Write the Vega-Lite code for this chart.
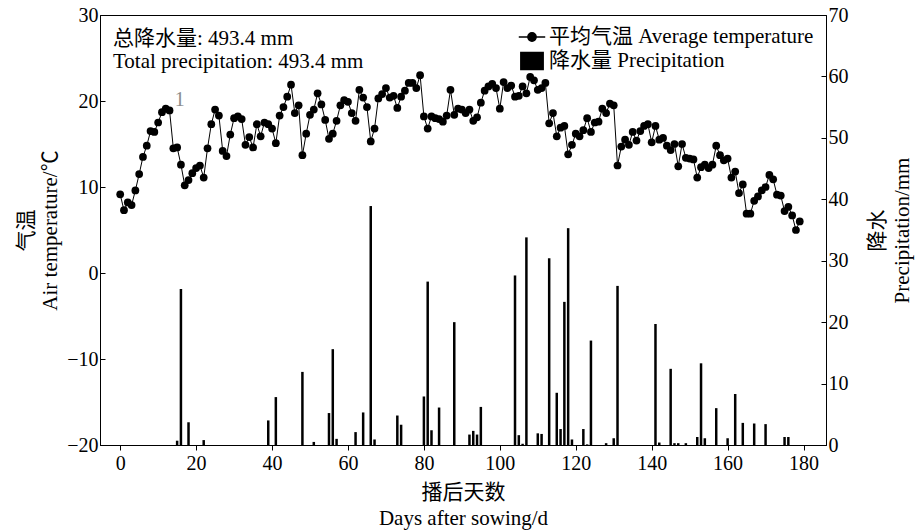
{
  "$schema": "https://vega.github.io/schema/vega-lite/v6.json",
  "width": 726,
  "height": 430,
  "autosize": "none",
  "padding": {"left": 100, "top": 15, "right": 89, "bottom": 87},
  "background": "white",
  "config": {
    "font": "Liberation Serif, Noto Sans CJK SC",
    "view": {"stroke": "black", "strokeWidth": 1},
    "axis": {
      "grid": false,
      "domainColor": "black",
      "tickColor": "black",
      "labelColor": "black",
      "titleColor": "black",
      "labelFontSize": 20,
      "titleFontSize": 21,
      "titleFontWeight": "normal",
      "labelFont": "Liberation Serif, Noto Sans CJK SC",
      "titleFont": "Liberation Serif, Noto Sans CJK SC"
    }
  },
  "datasets": {
    "temp": [
      {"day":0,"temp":9.15},{"day":1,"temp":7.3},{"day":2,"temp":8.2},{"day":3,"temp":7.9},{"day":4,"temp":9.6},
      {"day":5,"temp":11.5},{"day":6,"temp":13.5},{"day":7,"temp":14.8},{"day":8,"temp":16.5},{"day":9,"temp":16.4},
      {"day":10,"temp":17.5},{"day":11,"temp":18.7},{"day":12,"temp":19.1},{"day":13,"temp":18.9},{"day":14,"temp":14.5},
      {"day":15,"temp":14.6},{"day":16,"temp":12.6},{"day":17,"temp":10.2},{"day":18,"temp":10.8},{"day":19,"temp":11.6},
      {"day":20,"temp":12.2},{"day":21,"temp":12.5},{"day":22,"temp":11.1},{"day":23,"temp":14.5},{"day":24,"temp":17.3},
      {"day":25,"temp":19.0},{"day":26,"temp":18.3},{"day":27,"temp":14.2},{"day":28,"temp":13.6},{"day":29,"temp":16.1},
      {"day":30,"temp":18.0},{"day":31,"temp":18.2},{"day":32,"temp":17.9},{"day":33,"temp":14.9},{"day":34,"temp":15.8},
      {"day":35,"temp":14.6},{"day":36,"temp":17.3},{"day":37,"temp":15.9},{"day":38,"temp":17.5},{"day":39,"temp":17.3},
      {"day":40,"temp":16.8},{"day":41,"temp":15.1},{"day":42,"temp":18.3},{"day":43,"temp":19.3},{"day":44,"temp":20.5},
      {"day":45,"temp":21.9},{"day":46,"temp":18.6},{"day":47,"temp":19.5},{"day":48,"temp":13.7},{"day":49,"temp":16.2},
      {"day":50,"temp":18.4},{"day":51,"temp":19.0},{"day":52,"temp":20.9},{"day":53,"temp":19.6},{"day":54,"temp":17.8},
      {"day":55,"temp":15.6},{"day":56,"temp":16.2},{"day":57,"temp":17.7},{"day":58,"temp":19.5},{"day":59,"temp":20.1},
      {"day":60,"temp":19.9},{"day":61,"temp":18.6},{"day":62,"temp":17.7},{"day":63,"temp":21.3},{"day":64,"temp":20.4},
      {"day":65,"temp":19.3},{"day":66,"temp":15.3},{"day":67,"temp":16.8},{"day":68,"temp":20.3},{"day":69,"temp":20.8},
      {"day":70,"temp":21.5},{"day":71,"temp":20.4},{"day":72,"temp":20.6},{"day":73,"temp":19.2},{"day":74,"temp":20.5},
      {"day":75,"temp":21.2},{"day":76,"temp":22.1},{"day":77,"temp":22.1},{"day":78,"temp":21.5},{"day":79,"temp":23.0},
      {"day":80,"temp":18.2},{"day":81,"temp":16.8},{"day":82,"temp":18.2},{"day":83,"temp":18.0},{"day":84,"temp":17.9},
      {"day":85,"temp":17.6},{"day":86,"temp":18.3},{"day":87,"temp":21.3},{"day":88,"temp":18.4},{"day":89,"temp":19.1},
      {"day":90,"temp":19.0},{"day":91,"temp":18.6},{"day":92,"temp":19.0},{"day":93,"temp":17.7},{"day":94,"temp":18.1},
      {"day":95,"temp":19.8},{"day":96,"temp":21.2},{"day":97,"temp":21.7},{"day":98,"temp":22.0},{"day":99,"temp":21.5},
      {"day":100,"temp":19.1},{"day":101,"temp":22.2},{"day":102,"temp":21.5},{"day":103,"temp":21.8},{"day":104,"temp":20.5},
      {"day":105,"temp":20.6},{"day":106,"temp":21.7},{"day":107,"temp":20.9},{"day":108,"temp":22.8},{"day":109,"temp":22.4},
      {"day":110,"temp":21.3},{"day":111,"temp":21.5},{"day":112,"temp":22.1},{"day":113,"temp":17.4},{"day":114,"temp":18.6},
      {"day":115,"temp":15.9},{"day":116,"temp":16.9},{"day":117,"temp":17.1},{"day":118,"temp":13.8},{"day":119,"temp":14.9},
      {"day":120,"temp":16.2},{"day":121,"temp":15.9},{"day":122,"temp":16.6},{"day":123,"temp":18.0},{"day":124,"temp":16.4},
      {"day":125,"temp":17.5},{"day":126,"temp":17.6},{"day":127,"temp":19.1},{"day":128,"temp":18.6},{"day":129,"temp":19.7},
      {"day":130,"temp":19.5},{"day":131,"temp":12.5},{"day":132,"temp":14.7},{"day":133,"temp":15.5},{"day":134,"temp":14.9},
      {"day":135,"temp":16.4},{"day":136,"temp":15.4},{"day":137,"temp":16.5},{"day":138,"temp":17.1},{"day":139,"temp":17.3},
      {"day":140,"temp":15.2},{"day":141,"temp":17.1},{"day":142,"temp":15.5},{"day":143,"temp":15.7},{"day":144,"temp":14.8},
      {"day":145,"temp":14.3},{"day":146,"temp":15.0},{"day":147,"temp":12.4},{"day":148,"temp":15.0},{"day":149,"temp":13.4},
      {"day":150,"temp":13.3},{"day":151,"temp":13.2},{"day":152,"temp":11.1},{"day":153,"temp":12.3},{"day":154,"temp":12.6},
      {"day":155,"temp":12.2},{"day":156,"temp":12.6},{"day":157,"temp":14.8},{"day":158,"temp":13.7},{"day":159,"temp":13.1},
      {"day":160,"temp":13.3},{"day":161,"temp":11.1},{"day":162,"temp":11.8},{"day":163,"temp":9.3},{"day":164,"temp":10.3},
      {"day":165,"temp":6.9},{"day":166,"temp":6.9},{"day":167,"temp":8.4},{"day":168,"temp":8.9},{"day":169,"temp":9.6},
      {"day":170,"temp":10.0},{"day":171,"temp":11.4},{"day":172,"temp":10.9},{"day":173,"temp":9.1},{"day":174,"temp":9.0},
      {"day":175,"temp":7.2},{"day":176,"temp":7.7},{"day":177,"temp":6.7},{"day":178,"temp":5.0},{"day":179,"temp":6.0}
    ],
    "precip": [
      {"day":15,"precip":0.7},{"day":16,"precip":25.4},{"day":18,"precip":3.7},{"day":22,"precip":0.8},
      {"day":39,"precip":4.0},{"day":41,"precip":7.8},{"day":48,"precip":11.9},{"day":51,"precip":0.5},
      {"day":55,"precip":5.2},{"day":56,"precip":15.6},{"day":57,"precip":1.0},{"day":62,"precip":2.1},
      {"day":64,"precip":5.3},{"day":66,"precip":38.9},{"day":67,"precip":0.9},{"day":73,"precip":4.8},
      {"day":74,"precip":3.3},{"day":80,"precip":7.9},{"day":81,"precip":26.6},{"day":82,"precip":2.4},
      {"day":84,"precip":6.1},{"day":88,"precip":20.0},{"day":92,"precip":1.7},{"day":93,"precip":2.3},
      {"day":94,"precip":1.7},{"day":95,"precip":6.2},{"day":104,"precip":27.6},{"day":105,"precip":1.6},
      {"day":106,"precip":0.2},{"day":107,"precip":33.8},{"day":110,"precip":1.9},{"day":111,"precip":1.8},
      {"day":113,"precip":30.4},{"day":115,"precip":8.5},{"day":116,"precip":2.6},{"day":117,"precip":23.3},
      {"day":118,"precip":35.3},{"day":119,"precip":0.9},{"day":122,"precip":2.6},{"day":123,"precip":0.1},
      {"day":124,"precip":17.0},{"day":128,"precip":0.3},{"day":130,"precip":1.1},{"day":131,"precip":25.9},
      {"day":141,"precip":19.7},{"day":142,"precip":0.4},{"day":145,"precip":12.4},{"day":146,"precip":0.3},
      {"day":147,"precip":0.3},{"day":149,"precip":0.3},{"day":152,"precip":1.3},{"day":153,"precip":13.3},
      {"day":154,"precip":1.1},{"day":157,"precip":6.0},{"day":160,"precip":1.1},{"day":162,"precip":8.3},
      {"day":164,"precip":3.6},{"day":167,"precip":3.5},{"day":170,"precip":3.4},{"day":175,"precip":1.3},
      {"day":176,"precip":1.3}
    ]
  },
  "layer": [
    {
      "data": {"name": "precip"},
      "mark": {"type": "bar", "size": 2.5},
      "encoding": {
        "x": {
          "field": "day", "type": "quantitative",
          "scale": {"domain": [-4, 184.6], "nice": false, "zero": false},
          "axis": {
            "values": [0, 20, 40, 60, 80, 100, 120, 140, 160, 180],
            "tickSize": 5, "labelPadding": 3,
            "title": ["播后天数", "Days after sowing/d"],
            "titlePadding": 8, "titleLineHeight": 26
          }
        },
        "y": {
          "field": "precip", "type": "quantitative",
          "scale": {"domain": [0, 70], "nice": false},
          "axis": {
            "orient": "right",
            "values": [0, 10, 20, 30, 40, 50, 60, 70],
            "tickSize": -5, "labelPadding": 7,
            "title": ["降水", "Precipitation/mm"],
            "titleAngle": -90, "titlePadding": 14, "titleLineHeight": 25
          }
        },
        "color": {
          "datum": "降水量 Precipitation", "type": "nominal",
          "scale": {"domain": ["平均气温 Average temperature", "降水量 Precipitation"], "range": ["black", "black"]},
          "legend": {
            "title": null,
            "orient": "none",
            "legendX": 418,
            "legendY": 8,
            "labelFontSize": 21,
            "labelFont": "Liberation Serif, Noto Sans CJK SC",
            "labelColor": "black",
            "labelLimit": 500,
            "labelOffset": 3,
            "symbolSize": 700,
            "symbolStrokeWidth": 1.3,
            "rowPadding": 0,
            "encode": {
              "symbols": {
                "update": {
                  "shape": {"signal": "datum.value === '降水量 Precipitation' ? 'M-0.85,-0.65H0.85V0.65H-0.85Z' : 'M-1,0H1M-0.32,0A0.32,0.32,0,1,1,0.32,0A0.32,0.32,0,1,1,-0.32,0'"},
                  "fill": {"value": "black"},
                  "stroke": {"value": "black"},
                  "opacity": {"value": 1}
                }
              }
            }
          }
        }
      }
    },
    {
      "layer": [
        {
          "data": {"name": "temp"},
          "mark": {"type": "line", "strokeWidth": 1, "point": {"filled": true, "size": 60}},
          "encoding": {
            "x": {"field": "day", "type": "quantitative", "scale": {"domain": [-4, 184.6], "nice": false, "zero": false}},
            "y": {
              "field": "temp", "type": "quantitative",
              "scale": {"domain": [-20, 30], "nice": false, "zero": false},
              "axis": {
                "orient": "left",
                "values": [-20, -10, 0, 10, 20, 30],
                "tickSize": -5, "labelPadding": 7,
                "title": ["气温", "Air temperature/℃"],
                "titlePadding": 6, "titleLineHeight": 24
              }
            },
            "color": {"datum": "平均气温 Average temperature", "type": "nominal"}
          }
        },
        {
          "data": {"values": [{}]},
          "mark": {"type": "text", "align": "left", "baseline": "top", "fontSize": 21, "lineHeight": 23, "color": "black",
                   "font": "Liberation Serif, Noto Sans CJK SC",
                   "text": ["总降水量: 493.4 mm", "Total precipitation: 493.4 mm"]},
          "encoding": {
            "x": {"datum": -1.9, "type": "quantitative"},
            "y": {"datum": 28.5, "type": "quantitative"}
          }
        },
        {
          "data": {"values": [{}]},
          "mark": {"type": "text", "align": "center", "baseline": "middle", "fontSize": 20, "color": "#8c8c8c",
                   "font": "Liberation Serif", "text": "1"},
          "encoding": {
            "x": {"datum": 15.7, "type": "quantitative"},
            "y": {"datum": 20.1, "type": "quantitative"}
          }
        }
      ]
    }
  ],
  "resolve": {"scale": {"y": "independent"}}
}
